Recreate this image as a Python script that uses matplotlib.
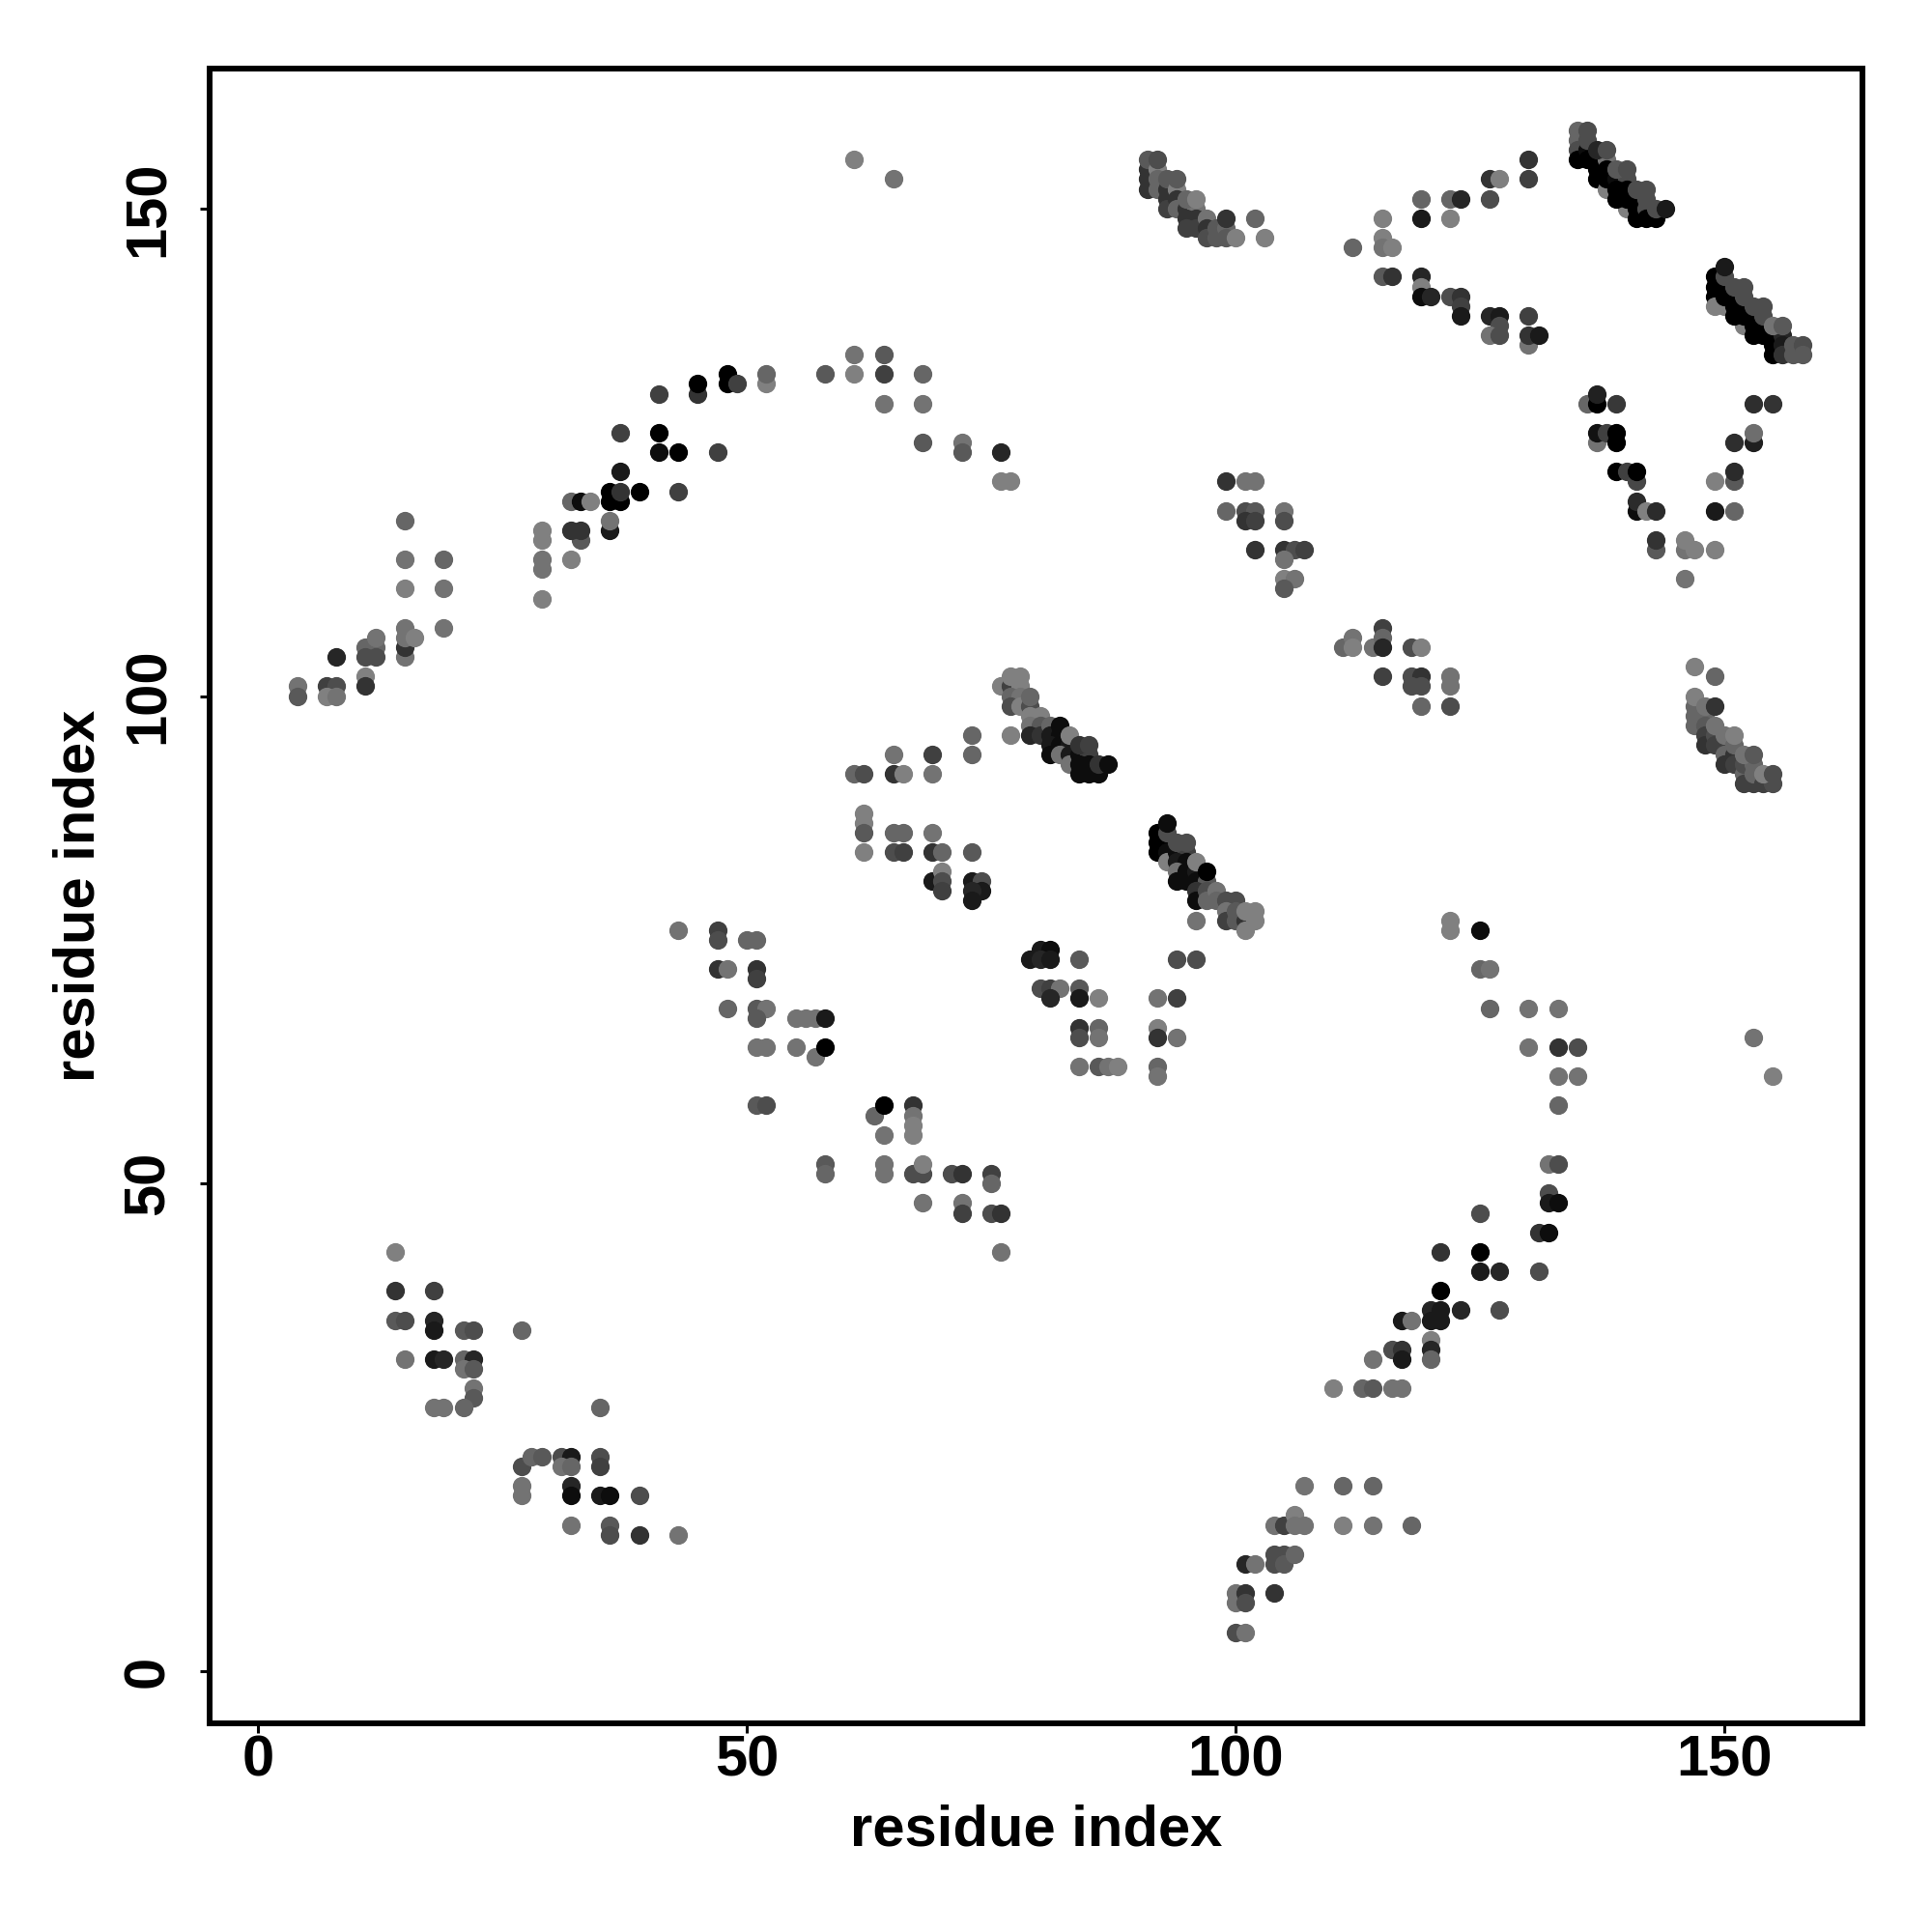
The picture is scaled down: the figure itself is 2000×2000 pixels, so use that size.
import matplotlib
matplotlib.use('Agg')
import matplotlib.pyplot as plt

plt.rcParams['font.family'] = ['Liberation Sans', 'DejaVu Sans']

# contacts as (residue i, residue j, grey level)
lower_left = [
    (14,43,.5),(14,39,.2),(14,36,.35),(15,36,.3),(18,39,.25),(18,36,.15),(18,35,.1),(18,32,.1),(19,32,.15),
    (15,32,.45),(21,35,.35),(22,35,.3),(21,32,.4),(22,32,.15),(21,31,.45),(22,31,.35),(22,29,.45),(22,28,.35),
    (21,27,.4),(18,27,.45),(19,27,.45),(27,35,.4),(35,27,.4),(27,21,.3),(28,22,.4),(29,22,.35),(27,19,.45),
    (27,18,.45),(31,22,.3),(32,22,.1),(31,21,.45),(32,21,.4),(32,19,.15),(32,18,.05),(35,22,.3),(35,21,.25),
    (35,18,.1),(36,18,.05),(39,18,.3),(32,15,.45),(36,15,.35),(36,14,.3),(39,14,.2),(43,14,.45),
]
lower_right = [
    (100,4,.3),(101,4,.45),(100,8,.45),(100,7,.45),(101,8,.2),(101,7,.3),(101,11,.15),(102,11,.45),(104,8,.2),
    (104,12,.3),(104,11,.3),(105,12,.3),(105,11,.35),(106,12,.4),(104,15,.45),(105,15,.25),(106,16,.5),(106,15,.45),
    (107,15,.45),(107,19,.45),(111,19,.4),(114,19,.4),(111,15,.5),(114,15,.45),(118,15,.4),(110,29,.5),(113,29,.4),
    (114,29,.35),(116,29,.45),(117,29,.45),(114,32,.45),(116,33,.3),(117,33,.2),(117,32,.1),(120,34,.5),(120,33,.15),
    (120,32,.4),(117,36,.1),(118,36,.45),(120,37,.15),(121,37,.1),(120,36,.1),(121,36,.1),(121,39,.0),(121,43,.2),
    (123,37,.15),(125,47,.3),(125,43,.0),(125,41,.1),(127,41,.15),(127,37,.3),(131,41,.3),(131,45,.2),(132,45,.05),
    (132,49,.3),(132,48,.1),(133,48,.05),(132,52,.45),(133,52,.3),(133,58,.4),(133,61,.45),(135,61,.45),(133,64,.2),
    (135,64,.3),(130,64,.45),(130,68,.45),(133,68,.45),(126,68,.4),(125,72,.4),(126,72,.45),(125,76,.05),(122,77,.5),
    (122,76,.5),(153,65,.45),(155,61,.5),
]
middle_lower = [
    (43,76,.45),(47,76,.25),(47,75,.3),(50,75,.4),(51,75,.4),(47,72,.2),(48,72,.45),(51,72,.2),(51,71,.25),(48,68,.4),
    (51,68,.35),(52,68,.45),(51,67,.35),(51,64,.45),(52,64,.45),(55,64,.45),(51,58,.35),(52,58,.3),(55,67,.45),
    (56,67,.45),(57,67,.45),(58,67,.1),(57,63,.45),(58,64,.0),(58,52,.35),(58,51,.4),(63,57,.4),(64,58,.0),(67,58,.2),
    (67,57,.45),(67,56,.5),(67,55,.5),(64,55,.45),(64,52,.45),(64,51,.45),(67,51,.3),(68,51,.3),(68,52,.5),(68,48,.45),
    (71,51,.3),(72,51,.2),(72,48,.45),(72,47,.25),(75,51,.25),(75,50,.4),(75,47,.3),(76,47,.2),(76,43,.45),
]
center_low = [
    (79,73,.1),(80,74,.1),(81,74,.05),(80,73,.15),(81,73,.1),(84,73,.35),(80,70,.3),(81,70,.25),(82,70,.45),(81,69,.15),
    (84,70,.35),(84,69,.1),(86,69,.5),(84,66,.2),(84,65,.3),(86,66,.4),(86,65,.45),(84,62,.45),(86,62,.35),(87,62,.45),
    (88,62,.5),(92,69,.45),(94,69,.25),(94,73,.3),(96,73,.3),(92,66,.5),(92,65,.2),(94,65,.45),(92,62,.4),(92,61,.45),
]
strand_center_lo = [
    (92,86,.0),(92,85,.0),(92,84,.0),(93,85,.0),(93,84,.05),(93,83,.5),(94,84,.05),(95,84,.25),(94,83,.1),
    (95,83,.05),(93,86,.3),(94,85,.3),(95,85,.3),(93,87,.05),(94,82,.45),(94,81,.05),(95,81,.05),(95,82,.05),(96,82,.1),(96,81,.05),
    (96,83,.5),(97,81,.35),(97,82,.0),(96,80,.2),(96,79,.05),(97,80,.3),(97,79,.4),(98,80,.45),(98,79,.4),(99,79,.3),
    (100,79,.3),(99,78,.45),(99,77,.25),(100,78,.35),(100,77,.35),(101,77,.2),(101,76,.5),(101,78,.5),(102,78,.5),
    (102,77,.5),(96,77,.45),
]
strand_center_hi = [
    (73,96,.4),(73,94,.4),(77,96,.5),(76,101,.5),(77,101,.25),(78,101,.5),(77,102,.5),(78,102,.5),(77,100,.4),(78,100,.45),
    (77,99,.3),(78,99,.5),(79,99,.3),(79,100,.4),(79,98,.5),(80,98,.5),(79,97,.45),(80,97,.35),(79,96,.15),(80,96,.2),
    (81,97,.4),(81,96,.1),(82,96,.05),(81,95,.1),(82,95,.05),(83,95,.1),(81,94,.05),(82,94,.45),(83,94,.1),(83,93,.45),
    (82,97,.05),(83,96,.5),(84,94,.05),(85,94,.25),(84,95,.2),(85,95,.25),(84,93,.05),(85,93,.05),(84,92,.05),(85,92,.05),
    (86,92,.05),(86,93,.2),(87,93,.05),
]
center_up = [
    (61,92,.4),(62,92,.3),(65,94,.45),(65,92,.2),(66,92,.5),(69,94,.25),(69,92,.45),(62,88,.5),(62,87,.5),(62,86,.35),
    (62,84,.5),(65,86,.4),(66,86,.4),(65,84,.3),(66,84,.25),(69,86,.45),(69,84,.2),(70,84,.4),(69,81,.1),(70,82,.5),
    (70,81,.3),(70,80,.25),(73,84,.35),(73,81,.1),(74,81,.3),(74,80,.1),(73,80,.15),(73,79,.1),
]
arc_left = [
    (4,101,.45),(4,100,.35),(7,101,.25),(8,101,.3),(7,100,.5),(8,100,.45),(8,104,.15),(11,102,.5),(11,101,.2),(11,105,.4),
    (12,105,.4),(11,104,.3),(12,104,.3),(12,106,.45),(15,104,.45),(15,105,.2),(15,106,.45),(15,107,.45),(16,106,.5),
    (19,107,.45),(15,118,.4),(15,114,.45),(19,114,.4),(15,111,.5),(19,111,.45),(29,116,.5),(29,117,.5),(29,113,.45),
    (29,114,.45),(29,110,.5),(32,120,.4),(33,120,.05),(34,120,.5),(33,116,.35),(32,117,.2),(33,117,.2),(32,114,.5),
    (36,121,.0),(36,120,.0),(37,120,.0),(37,121,.2),(39,121,.0),(37,123,.1),(36,117,.1),(36,118,.45),(37,127,.25),(41,127,.0),
    (41,125,.05),(43,125,.0),(47,125,.25),(43,121,.25),(41,131,.25),(45,131,.2),(45,132,.0),(48,133,.0),(48,132,.0),(49,132,.25),
    (52,132,.5),(52,133,.4),(58,133,.35),(61,135,.45),(61,133,.5),(64,135,.35),(64,133,.25),(64,130,.45),(68,133,.4),
    (68,130,.45),(68,126,.35),(72,126,.45),(72,125,.35),(76,125,.15),(76,122,.5),(77,122,.5),
]
right_mid = [
    (99,122,.2),(101,122,.45),(102,122,.45),(99,119,.4),(101,119,.3),(102,119,.35),(101,118,.2),(102,118,.25),(105,119,.45),
    (105,118,.3),(102,115,.2),(105,115,.2),(106,115,.3),(107,115,.25),(105,114,.45),(105,112,.5),(106,112,.45),(105,111,.35),
    (111,105,.4),(112,106,.45),(112,105,.5),(114,105,.45),(115,107,.25),(115,106,.4),(115,105,.15),(115,102,.25),(118,105,.3),
    (119,105,.5),(118,102,.3),(119,102,.2),(118,101,.3),(119,101,.3),(119,99,.4),(122,102,.45),(122,101,.45),(122,99,.3),
]
top_mid = [
    (61,155,.5),(65,153,.45),(91,154,.2),(91,153,.2),(91,152,.2),(91,155,.35),(92,154,.5),(92,153,.4),(92,152,.4),(92,155,.3),
    (93,152,.2),(93,151,.2),(93,150,.25),(93,153,.35),(94,152,.5),(94,151,.2),(94,150,.4),(94,153,.35),(95,150,.2),(96,150,.45),
    (95,149,.2),(96,149,.2),(95,148,.25),(96,148,.25),(95,151,.4),(96,151,.5),(97,149,.45),(97,148,.2),(97,147,.3),(98,148,.35),
    (98,147,.35),(99,148,.4),(99,147,.35),(99,149,.2),(100,147,.5),(102,149,.4),(103,147,.5),
]
top_right = [
    (112,146,.4),(115,149,.5),(115,147,.5),(115,146,.45),(116,146,.5),(119,151,.4),(122,151,.4),(119,149,.1),(122,149,.5),
    (115,143,.35),(116,143,.2),(119,143,.15),(119,142,.5),(119,141,.05),(120,141,.15),(122,141,.3),(123,151,.15),(126,153,.2),
    (127,153,.5),(126,151,.3),(130,155,.2),(130,153,.25),(123,141,.2),(123,140,.25),(123,139,.1),(126,139,.15),(127,139,.1),
    (127,138,.3),(126,137,.45),(127,137,.3),(130,139,.25),(130,136,.45),(130,137,.2),(131,137,.1),
]
strand_top = [
    (135,158,.4),(135,157,.4),(135,156,.3),(135,155,.0),(136,156,.05),(136,155,.0),(136,157,.3),(136,158,.3),(137,155,.0),
    (137,154,.0),(137,153,.0),(138,152,.5),(138,155,.45),(138,154,.0),(138,153,.0),(137,156,.15),(138,156,.3),(140,150,.5),
    (139,153,.05),(140,153,.3),(139,152,.0),(140,152,.0),(139,151,.0),(140,151,.0),(139,154,.35),(140,154,.3),(141,151,.0),
    (141,150,.0),(141,149,.0),(142,151,.3),(142,150,.3),(142,149,.0),(141,152,.3),(142,152,.3),(143,149,.0),(143,150,.3),(144,150,.1),
]
strand_right = [
    (149,143,.0),(149,142,.0),(149,141,.0),(149,140,.5),(150,140,.5),(152,138,.5),(150,142,.0),(150,141,.0),(150,143,.3),
    (150,144,.1),(151,141,.0),(151,140,.0),(151,139,.0),(152,140,.0),(152,139,.0),(152,141,.3),(151,142,.3),(152,142,.3),
    (153,139,.0),(153,138,.0),(153,137,.0),(154,138,.0),(154,137,.0),(154,139,.3),(153,140,.3),(154,140,.3),(155,137,.0),(155,136,.0),
    (155,135,.0),(156,137,.15),(156,136,.1),(156,135,.2),(155,138,.45),(156,138,.35),(157,136,.35),(157,135,.35),(158,136,.3),(158,135,.35),
]
loop_right = [
    (136,130,.4),(137,130,.0),(137,131,.13),(139,130,.22),(137,126,.45),(137,127,.07),(138,127,.25),(139,126,.0),(139,127,.0),(139,123,.0),
    (140,123,.25),(141,122,.28),(141,123,.0),(141,119,.05),(141,120,.17),(142,119,.5),(143,119,.17),(143,115,.35),(143,116,.2),
    (146,115,.45),(146,116,.5),(147,115,.5),(146,112,.45),(149,115,.5),(149,122,.5),(149,119,.1),(151,119,.4),(151,122,.35),
    (151,123,.17),(151,126,.18),(153,126,.12),(153,127,.43),(153,130,.18),(155,130,.2),
]
strand_lower_right = [
    (147,103,.5),(149,102,.4),(147,99,.4),(147,98,.4),(147,97,.4),(148,98,.4),(148,97,.35),(148,96,.25),(148,95,.2),(147,100,.5),
    (148,99,.45),(149,96,.3),(149,95,.25),(149,97,.45),(149,99,.2),(150,95,.25),(150,94,.4),(150,93,.2),(151,94,.2),(151,93,.25),(150,96,.45),
    (151,95,.4),(151,96,.5),(152,92,.4),(152,91,.25),(153,91,.25),(152,93,.3),(153,93,.4),(153,92,.4),(152,94,.45),(153,94,.35),
    (154,91,.25),(155,91,.3),(154,92,.5),(155,92,.3),
]
groups = [lower_left, lower_right, middle_lower, center_low, strand_center_lo, strand_center_hi, center_up,
          arc_left, right_mid, top_mid, top_right, strand_top, strand_right, loop_right, strand_lower_right]
ticks = [0, 50, 100, 150]

fig = plt.figure(figsize=(20, 20), dpi=100)
ax = fig.add_axes([0.1083, 0.108, 0.8559, 0.8563])
for g in groups:
    for x, y, c in g:
        ax.scatter(x, y, s=192, color=str(c), linewidths=0, zorder=3)

ax.set_xlim(-5.0, 164.2)
ax.set_ylim(-5.35, 164.3)
ax.set_xticks(ticks)
ax.set_yticks(ticks)
ax.tick_params(length=7.2, width=2.2, labelsize=43)
ax.tick_params(axis='x', pad=1)
ax.tick_params(axis='y', pad=18)
for t in ax.get_xticklabels():
    t.set_fontweight('bold')
for t in ax.get_yticklabels():
    t.set_fontweight('bold')
    t.set_rotation(90)
    t.set_va('center')
for s in ax.spines.values():
    s.set_linewidth(4.3)
ax.set_xlabel('residue index', fontsize=43, fontweight='bold', labelpad=12)
ax.set_ylabel('residue index', fontsize=43, fontweight='bold', labelpad=12)
fig.savefig('out.png', dpi=100)
